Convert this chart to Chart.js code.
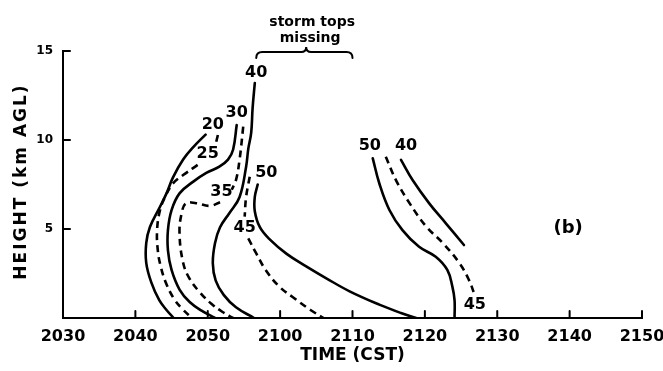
<!DOCTYPE html>
<html>
<head>
<meta charset="utf-8">
<script src="https://cdn.jsdelivr.net/npm/chart.js@4/dist/chart.umd.min.js"></script>
<style>
html,body{margin:0;padding:0;background:#fff;}
#wrap{width:663px;height:371px;position:relative;}
</style>
</head>
<body>
<div id="wrap"><canvas id="c"></canvas></div>
<script>
// x values: minutes after 2030 CST; y values: height (km AGL)
const timeTickLabels = ['2030','2040','2050','2100','2110','2120','2130','2140','2150'];
const heightTicks = [5, 10, 15];

const c20T = [19.7, 18.0, 16.6, 15.2, 14.3, 13.4, 12.0, 11.5, 11.5, 12.2, 13.3, 14.3, 15.3];
const c20H = [10.3, 9.6, 8.9, 7.9, 7.0, 6.25, 5.1, 4.2, 3.1, 2.0, 1.0, 0.45, 0];

const c25aT = [21.4, 21.0];
const c25aH = [10.28, 9.6];
const c25bT = [18.6, 16.6, 15.2, 14.1, 13.4, 13.0, 13.1, 13.5, 14.2, 15.3, 16.5, 17.8];
const c25bH = [8.6, 8.03, 7.56, 6.8, 6.06, 4.94, 3.8, 2.9, 2.0, 1.1, 0.5, 0];

const c30T = [24.0, 23.5, 22.8, 21.6, 19.8, 18.0, 16.1, 15.0, 14.5, 14.5, 15.0, 16.1, 17.5, 19.2, 21.0];
const c30H = [10.84, 9.45, 8.9, 8.5, 8.15, 7.66, 7.0, 6.06, 4.94, 3.8, 2.7, 1.6, 0.9, 0.4, 0];

const c35aT = [24.9, 24.4, 23.9, 23.3];
const c35aH = [10.75, 8.9, 7.75, 7.2];
const c35bT = [21.7, 20.3, 18.4, 17.0, 16.4, 16.1, 16.6, 17.5, 19.0, 20.5, 22.0, 23.5];
const c35bH = [6.5, 6.3, 6.45, 6.45, 5.9, 4.77, 3.1, 2.2, 1.4, 0.8, 0.35, 0];

const c40T = [26.5, 26.2, 26.0, 25.6, 25.3, 24.4, 23.0, 21.7, 21.0, 20.7, 21.1, 22.2, 23.9, 26.4];
const c40H = [13.2, 11.8, 10.4, 9.5, 8.5, 6.8, 5.9, 5.1, 4.2, 3.07, 2.1, 1.3, 0.6, 0];

const c45aT = [25.8, 25.3, 25.1];
const c45aH = [7.94, 6.8, 5.7];
const c45bT = [25.6, 26.7, 28.0, 29.9, 32.0, 34.2, 36.0];
const c45bH = [4.47, 3.63, 2.7, 1.76, 1.1, 0.45, 0];

const c50LT = [26.9, 26.5, 26.5, 27.2, 28.6, 30.9, 33.6, 36.5, 39.6, 43.7, 46.7, 48.8];
const c50LH = [7.5, 6.8, 6.0, 5.1, 4.4, 3.6, 2.9, 2.2, 1.5, 0.75, 0.28, 0];

const c50RT = [42.8, 43.7, 45.1, 46.9, 49.2, 51.5, 53.1, 53.8, 54.1, 54.1];
const c50RH = [8.97, 7.57, 6.07, 4.94, 4.0, 3.44, 2.7, 1.76, 1.0, 0];

const c45RT = [44.6, 46.0, 47.9, 50.2, 52.5, 54.8, 56.1, 56.8];
const c45RH = [9.06, 7.75, 6.44, 5.13, 4.2, 3.07, 2.13, 1.39];

const c40RT = [46.7, 48.3, 50.6, 52.9, 55.4];
const c40RH = [8.88, 7.75, 6.44, 5.32, 4.1];

// contour labels
const labelText = ['20', '25', '30', '35', '40', '50', '45', '50', '40', '45'];
const labelT    = [20.7, 20.0, 24.0, 21.9, 26.7, 28.1, 25.1, 42.4, 47.4, 56.9];
const labelH    = [10.84, 9.25, 11.5, 7.1, 13.75, 8.13, 5.05, 9.66, 9.66, 0.75];

const panelLabel = '(b)';
const panelT = 69.8, panelH = 5.06;

const braceStartT = 26.7, braceMidT = 33.6, braceEndT = 40.0, braceH = 15;
const braceText = ['storm tops', 'missing'];

function pts(T, H) { return T.map((t, i) => ({x: t, y: H[i]})); }
function solid(T, H) {
  return {data: pts(T, H), showLine: true, borderColor: '#000', borderWidth: 2.6,
          pointRadius: 0, tension: 0.4, fill: false, borderCapStyle: 'round', borderJoinStyle: 'round'};
}
function dashed(T, H) {
  const d = solid(T, H); d.borderDash = [7, 5]; d.borderCapStyle = 'butt'; return d;
}

const datasets = [
  solid(c20T, c20H),
  dashed(c25aT, c25aH), dashed(c25bT, c25bH),
  solid(c30T, c30H),
  dashed(c35aT, c35aH), dashed(c35bT, c35bH),
  solid(c40T, c40H),
  dashed(c45aT, c45aH), dashed(c45bT, c45bH),
  solid(c50LT, c50LH),
  solid(c50RT, c50RH),
  dashed(c45RT, c45RH),
  solid(c40RT, c40RH)
];

const annot = {
  id: 'annot',
  afterDraw(chart) {
    const {ctx, scales: {x, y}, chartArea} = chart;
    ctx.save();
    ctx.strokeStyle = '#000';
    ctx.fillStyle = '#000';
    ctx.lineWidth = 2;
    ctx.lineCap = 'round';
    // inward tick marks
    for (let v = 10; v <= 80; v += 10) {
      const px = x.getPixelForValue(v);
      ctx.beginPath(); ctx.moveTo(px, chartArea.bottom); ctx.lineTo(px, chartArea.bottom - 7); ctx.stroke();
    }
    heightTicks.forEach(v => {
      const py = y.getPixelForValue(v);
      ctx.beginPath(); ctx.moveTo(chartArea.left, py); ctx.lineTo(chartArea.left + 7, py); ctx.stroke();
    });
    // contour labels
    ctx.textAlign = 'center';
    ctx.textBaseline = 'middle';
    ctx.font = 'bold 16px "DejaVu Sans"';
    labelText.forEach((s, i) => {
      ctx.fillText(s, x.getPixelForValue(labelT[i]), y.getPixelForValue(labelH[i]));
    });
    ctx.font = 'bold 18px "DejaVu Sans"';
    ctx.fillText(panelLabel, x.getPixelForValue(panelT), y.getPixelForValue(panelH));
    // brace
    const x1 = x.getPixelForValue(braceStartT), xm = x.getPixelForValue(braceMidT), x2 = x.getPixelForValue(braceEndT);
    const y0 = y.getPixelForValue(braceH) + 1;
    ctx.beginPath();
    ctx.moveTo(x1, y0 + 6);
    ctx.quadraticCurveTo(x1, y0, x1 + 6, y0);
    ctx.lineTo(xm - 5, y0);
    ctx.quadraticCurveTo(xm, y0, xm, y0 - 5);
    ctx.quadraticCurveTo(xm, y0, xm + 5, y0);
    ctx.lineTo(x2 - 6, y0);
    ctx.quadraticCurveTo(x2, y0, x2, y0 + 6);
    ctx.stroke();
    ctx.font = 'bold 14px "DejaVu Sans"';
    ctx.fillText(braceText[0], xm + 6, y0 - 30);
    ctx.fillText(braceText[1], xm + 4, y0 - 14);
    // y axis title
    ctx.save();
    ctx.translate(22, (chartArea.top + chartArea.bottom) / 2 - 3);
    ctx.rotate(-Math.PI / 2);
    ctx.font = 'bold 17px "DejaVu Sans"';
    ctx.letterSpacing = '2px';
    ctx.fillText('HEIGHT (km AGL)', 0, 0);
    ctx.restore();
    ctx.restore();
  }
};

new Chart(document.getElementById('c'), {
  type: 'scatter',
  data: {datasets},
  options: {
    responsive: true,
    maintainAspectRatio: false,
    animation: false,
    layout: {padding: {top: 51, right: 21, left: 0, bottom: 0}},
    plugins: {legend: {display: false}, tooltip: {enabled: false}},
    scales: {
      x: {
        type: 'linear', position: 'bottom', min: 0, max: 80,
        grid: {display: false, drawTicks: false},
        border: {display: true, color: '#000', width: 2},
        ticks: {stepSize: 10, color: '#000', padding: 9, maxRotation: 0,
                font: {family: 'DejaVu Sans', weight: 'bold', size: 16},
                callback: (v, i) => timeTickLabels[i]},
        title: {display: true, text: 'TIME (CST)', color: '#000',
                font: {family: 'DejaVu Sans', weight: 'bold', size: 17},
                padding: {top: 0, bottom: 5}},
        afterFit: s => { s.height = 53; s.paddingRight = 0; s.paddingLeft = 0; }
      },
      y: {
        type: 'linear', min: 0, max: 15,
        grid: {display: false, drawTicks: false},
        border: {display: true, color: '#000', width: 2},
        ticks: {stepSize: 5, color: '#000', padding: 10,
                font: {family: 'DejaVu Sans', weight: 'bold', size: 12},
                callback: v => (v === 0 ? '' : String(v))},
        afterFit: s => { s.width = 63; }
      }
    }
  },
  plugins: [annot]
});
</script>
</body>
</html>
